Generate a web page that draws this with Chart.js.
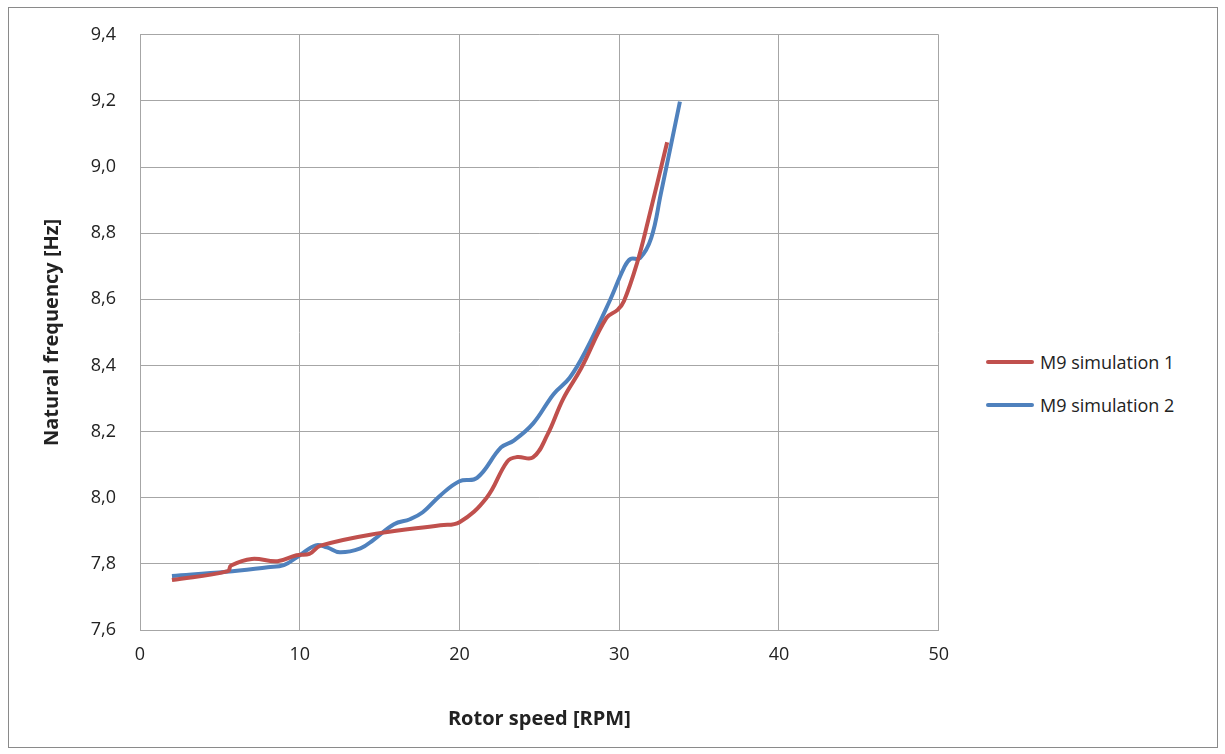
<!DOCTYPE html>
<html>
<head>
<meta charset="utf-8">
<script src="https://cdn.jsdelivr.net/npm/chart.js@4/dist/chart.umd.min.js"></script>
<style>
    html, body { margin: 0; padding: 0; background: #fff; }
    #ramka {
        position: absolute; left: 8px; top: 7px; width: 1208px; height: 739px;
        border: 1px solid #8a8a8a;
    }
    #wykres-box { position: absolute; left: 0; top: 0; width: 963px; height: 754px; }
    #legenda {
        position: absolute; left: 986px; top: 340px;
        font-family: "Open Sans", sans-serif; font-size: 18px; color: #222;
    }
    .poz { display: flex; align-items: center; height: 43px; }
    .kreska { width: 48px; height: 4px; border-radius: 2px; margin-right: 6px; }
</style>
</head>
<body>
<div id="ramka"></div>
<div id="wykres-box"><canvas id="wykres"></canvas></div>
<div id="legenda">
    <div class="poz"><span class="kreska" style="background:#C0504D"></span>M9 simulation 1</div>
    <div class="poz"><span class="kreska" style="background:#4F81BD"></span>M9 simulation 2</div>
</div>
<script>
const sim1Rpm = [2, 5.5, 5.7, 7, 8.6, 9.8, 10.6, 11.3, 15, 18.8, 20, 21.7, 23, 23.6, 24.6, 25.5, 26.5, 27.6, 29.2, 29.9, 30.3, 31.1, 31.8, 33];
const sim1Hz  = [7.751, 7.778, 7.795, 7.815, 7.808, 7.826, 7.83, 7.855, 7.893, 7.917, 7.926, 8.0, 8.11, 8.123, 8.122, 8.19, 8.3, 8.39, 8.544, 8.568, 8.595, 8.707, 8.836, 9.075];

const sim2Rpm = [2, 5.4, 8, 9, 10, 11, 11.7, 12.5, 13.8, 14.6, 15.9, 16.9, 17.7, 18.8, 20, 21.1, 22.6, 23.4, 24.6, 25.9, 26.9, 27.9, 29.4, 30.3, 30.7, 31.3, 32, 32.6, 33.8];
const sim2Hz  = [7.763, 7.776, 7.79, 7.796, 7.826, 7.856, 7.85, 7.835, 7.847, 7.872, 7.92, 7.935, 7.956, 8.007, 8.05, 8.06, 8.152, 8.173, 8.224, 8.314, 8.363, 8.444, 8.595, 8.695, 8.722, 8.725, 8.785, 8.918, 9.198];

const xTicks = [0, 10, 20, 30, 40, 50];
const yTicks = [7.6, 7.8, 8.0, 8.2, 8.4, 8.6, 8.8, 9.0, 9.2, 9.4];

const punkty = (xs, ys) => xs.map((x, i) => ({ x: x, y: ys[i] }));
const siatka = '#a6a6a6';
const czcionka = { family: '"Open Sans", sans-serif', size: 18 };
const czcionkaTytul = { family: '"Open Sans", sans-serif', size: 20, weight: 'bold' };

new Chart(document.getElementById('wykres'), {
    type: 'line',
    data: {
        datasets: [
            {
                label: 'M9 simulation 1',
                data: punkty(sim1Rpm, sim1Hz),
                borderColor: '#C0504D',
                borderWidth: 4,
                tension: 0.4,
                pointRadius: 0,
                fill: false
            },
            {
                label: 'M9 simulation 2',
                data: punkty(sim2Rpm, sim2Hz),
                borderColor: '#4F81BD',
                borderWidth: 4,
                tension: 0.4,
                pointRadius: 0,
                fill: false
            }
        ]
    },
    options: {
        responsive: true,
        maintainAspectRatio: false,
        animation: false,
        layout: { padding: { top: 33, left: 36, right: 19, bottom: 10 } },
        plugins: {
            legend: { display: false },
            tooltip: { enabled: false }
        },
        scales: {
            x: {
                type: 'linear',
                min: 0, max: 50,
                afterBuildTicks: s => { s.ticks = xTicks.map(v => ({ value: v })); },
                afterFit: s => { s.height = 754 - 630 - 10; },
                grid: { color: siatka, drawTicks: false },
                border: { color: siatka },
                ticks: { color: '#222', font: czcionka, padding: 14 },
                title: {
                    display: true, text: 'Rotor speed [RPM]', color: '#222',
                    font: czcionkaTytul,
                    padding: { top: 0, bottom: 13 }
                }
            },
            y: {
                min: 7.6, max: 9.4,
                afterBuildTicks: s => { s.ticks = yTicks.map(v => ({ value: v })); },
                afterFit: s => { s.width = 140 - 36; },
                grid: { color: siatka, drawTicks: false },
                border: { color: siatka },
                ticks: {
                    color: '#222', font: czcionka, padding: 24,
                    callback: v => v.toFixed(1).replace('.', ',')
                },
                title: {
                    display: true, text: 'Natural frequency [Hz]', color: '#222',
                    font: czcionkaTytul,
                    padding: { top: 4, bottom: 4 }
                }
            }
        }
    }
});
</script>
</body>
</html>
